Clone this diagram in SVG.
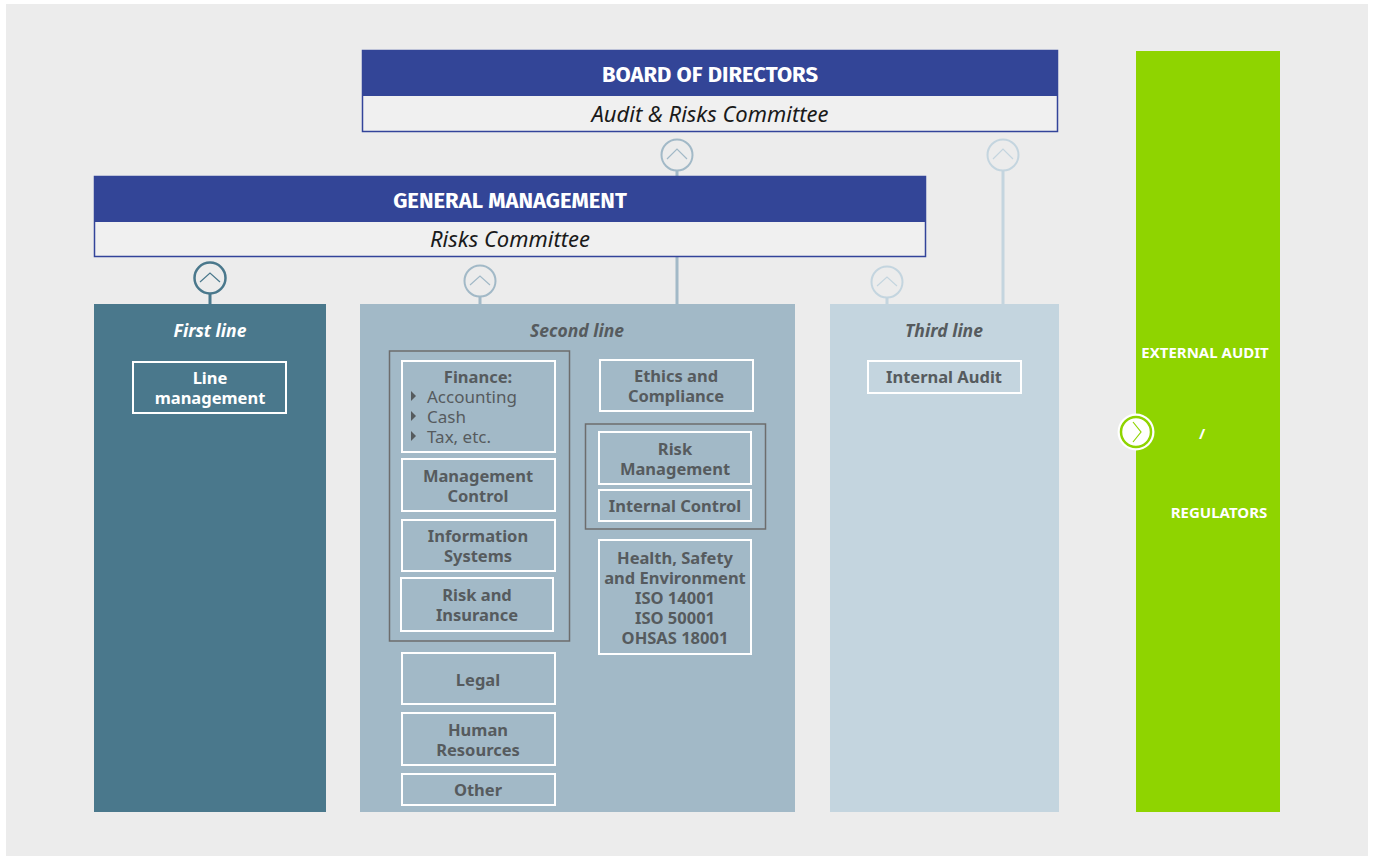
<svg xmlns="http://www.w3.org/2000/svg" width="1375" height="856" viewBox="0 0 1375 856">
<style>
.hdr{font-family:"Fira Sans","Noto Sans","Open Sans",sans-serif;font-weight:bold;font-size:22px;fill:#fff;text-anchor:middle}
.sub{font-family:"Noto Sans","Open Sans",sans-serif;font-style:italic;font-size:22px;fill:#1a1a1a;text-anchor:middle}
.lbl{font-family:"Noto Sans","Open Sans",sans-serif;font-style:italic;font-weight:bold;font-size:17.5px;text-anchor:middle}
.bx{fill:none;stroke:#fff;stroke-width:2}
.grp{fill:none;stroke:#6d6d6d;stroke-width:1.5}
.t{font-family:"Noto Sans","Open Sans",sans-serif;font-weight:bold;font-size:16.5px;fill:#565b5e;text-anchor:middle}
.tn{font-family:"Noto Sans","Open Sans",sans-serif;font-weight:normal;font-size:17px;fill:#565b5e}
.w{fill:#fff}
.ext{font-family:"Noto Sans","Open Sans",sans-serif;font-weight:bold;font-size:15px;fill:#fff;text-anchor:middle}
.chev{fill:none;stroke-width:1.2}
</style>
<rect x="0" y="0" width="1375" height="856" fill="#fff"/>
<rect x="6" y="4" width="1362" height="852" fill="#ececec"/>

<g id="connectors">
  <line x1="677" y1="171" x2="677" y2="176" stroke="#a2b9c7" stroke-width="3"/>
  <line x1="1003" y1="171" x2="1003" y2="304" stroke="#c4d5df" stroke-width="3"/>
  <line x1="677" y1="257" x2="677" y2="304" stroke="#a2b9c7" stroke-width="3"/>
  <line x1="210" y1="294" x2="210" y2="304" stroke="#4a788c" stroke-width="3"/>
  <line x1="480" y1="297" x2="480" y2="304" stroke="#a2b9c7" stroke-width="3"/>
  <line x1="887" y1="298" x2="887" y2="304" stroke="#c4d5df" stroke-width="3"/>
  <g fill="#ececec">
    <circle cx="677" cy="155" r="15.5" stroke="#a2b9c7" stroke-width="2"/>
    <polyline class="chev" points="667,159 677,149 687,159" stroke="#a2b9c7"/>
    <circle cx="1003" cy="155" r="15.5" stroke="#c4d5df" stroke-width="2"/>
    <polyline class="chev" points="993,159 1003,149 1013,159" stroke="#c4d5df"/>
    <circle cx="210" cy="278" r="15.5" stroke="#4a788c" stroke-width="2.5"/>
    <polyline class="chev" points="200,282 210,273 220,282" stroke="#4a788c"/>
    <circle cx="480" cy="281" r="15.5" stroke="#a2b9c7" stroke-width="2"/>
    <polyline class="chev" points="470,285 480,276 490,285" stroke="#a2b9c7"/>
    <circle cx="887" cy="282" r="15.5" stroke="#c4d5df" stroke-width="2"/>
    <polyline class="chev" points="877,286 887,277 897,286" stroke="#c4d5df"/>
  </g>
</g>

<g id="board">
  <rect x="362.5" y="50.5" width="695" height="81" fill="#f0f0f0" stroke="#33449a" stroke-width="1.5"/>
  <rect x="362" y="50" width="696" height="46" fill="#334597"/>
  <text class="hdr" x="710" y="82">BOARD OF DIRECTORS</text>
  <text class="sub" x="710" y="122">Audit &amp; Risks Committee</text>
</g>

<g id="general-management">
  <rect x="94.5" y="176.5" width="831" height="80" fill="#f0f0f0" stroke="#33449a" stroke-width="1.5"/>
  <rect x="94" y="176" width="832" height="46" fill="#334597"/>
  <text class="hdr" x="510" y="208">GENERAL MANAGEMENT</text>
  <text class="sub" x="510" y="247">Risks Committee</text>
</g>

<g id="first-line">
  <rect x="94" y="304" width="232" height="508" fill="#4a788c"/>
  <text class="lbl" x="210" y="337" fill="#fff">First line</text>
  <g id="line-management">
    <rect class="bx" x="133" y="362" width="153" height="51"/>
    <text class="t w" x="210" y="384">Line</text>
    <text class="t w" x="210" y="404">management</text>
  </g>
</g>

<g id="second-line">
  <rect x="360" y="304" width="435" height="508" fill="#a2b9c7"/>
  <text class="lbl" x="577" y="337" fill="#565b5e">Second line</text>
  <rect class="grp" x="389.5" y="351" width="180" height="290"/>
  <g id="finance">
    <rect class="bx" x="402" y="361" width="153" height="91"/>
    <text class="t" x="478" y="383">Finance:</text>
    <polygon points="411,391 416,396 411,401" fill="#565b5e"/>
    <text class="tn" x="427" y="403">Accounting</text>
    <polygon points="411,411 416,416 411,421" fill="#565b5e"/>
    <text class="tn" x="427" y="423">Cash</text>
    <polygon points="411,431 416,436 411,441" fill="#565b5e"/>
    <text class="tn" x="427" y="443">Tax, etc.</text>
  </g>
  <g id="management-control">
    <rect class="bx" x="402" y="459" width="153" height="52"/>
    <text class="t" x="478" y="482">Management</text>
    <text class="t" x="478" y="502">Control</text>
  </g>
  <g id="information-systems">
    <rect class="bx" x="402" y="520" width="153" height="51"/>
    <text class="t" x="478" y="542">Information</text>
    <text class="t" x="478" y="562">Systems</text>
  </g>
  <g id="risk-insurance">
    <rect class="bx" x="401" y="578" width="152" height="53"/>
    <text class="t" x="477" y="601">Risk and</text>
    <text class="t" x="477" y="621">Insurance</text>
  </g>
  <g id="legal">
    <rect class="bx" x="402" y="653" width="153" height="51"/>
    <text class="t" x="478" y="686">Legal</text>
  </g>
  <g id="human-resources">
    <rect class="bx" x="402" y="713" width="153" height="52"/>
    <text class="t" x="478" y="736">Human</text>
    <text class="t" x="478" y="756">Resources</text>
  </g>
  <g id="other">
    <rect class="bx" x="402" y="774" width="153" height="31"/>
    <text class="t" x="478" y="796">Other</text>
  </g>
  <g id="ethics-compliance">
    <rect class="bx" x="600" y="360" width="153" height="51"/>
    <text class="t" x="676" y="382">Ethics and</text>
    <text class="t" x="676" y="402">Compliance</text>
  </g>
  <rect class="grp" x="585.5" y="424" width="180" height="105"/>
  <g id="risk-management">
    <rect class="bx" x="599" y="432" width="152" height="52"/>
    <text class="t" x="675" y="455">Risk</text>
    <text class="t" x="675" y="475">Management</text>
  </g>
  <g id="internal-control">
    <rect class="bx" x="599" y="490" width="152" height="31"/>
    <text class="t" x="675" y="512">Internal Control</text>
  </g>
  <g id="hse">
    <rect class="bx" x="599" y="540" width="152" height="114"/>
    <text class="t" x="675" y="564">Health, Safety</text>
    <text class="t" x="675" y="584">and Environment</text>
    <text class="t" x="675" y="604">ISO 14001</text>
    <text class="t" x="675" y="624">ISO 50001</text>
    <text class="t" x="675" y="644">OHSAS 18001</text>
  </g>
</g>

<g id="third-line">
  <rect x="830" y="304" width="229" height="508" fill="#c4d5df"/>
  <text class="lbl" x="944" y="337" fill="#565b5e">Third line</text>
  <g id="internal-audit">
    <rect class="bx" x="868" y="361" width="153" height="32"/>
    <text class="t" x="944" y="383">Internal Audit</text>
  </g>
</g>

<g id="external-audit">
  <rect x="1136" y="51" width="144" height="761" fill="#8fd400"/>
  <text class="ext" x="1205" y="358">EXTERNAL AUDIT</text>
  <text class="ext" x="1202" y="439" font-size="18">/</text>
  <text class="ext" x="1219" y="518">REGULATORS</text>
  <circle cx="1136" cy="432" r="18.5" fill="#fff"/>
  <circle cx="1136" cy="432" r="15" fill="#fff" stroke="#8fd400" stroke-width="2.5"/>
  <polyline class="chev" points="1133,422 1141,432 1133,442" stroke="#8fd400" stroke-width="1.5"/>
</g>
</svg>
